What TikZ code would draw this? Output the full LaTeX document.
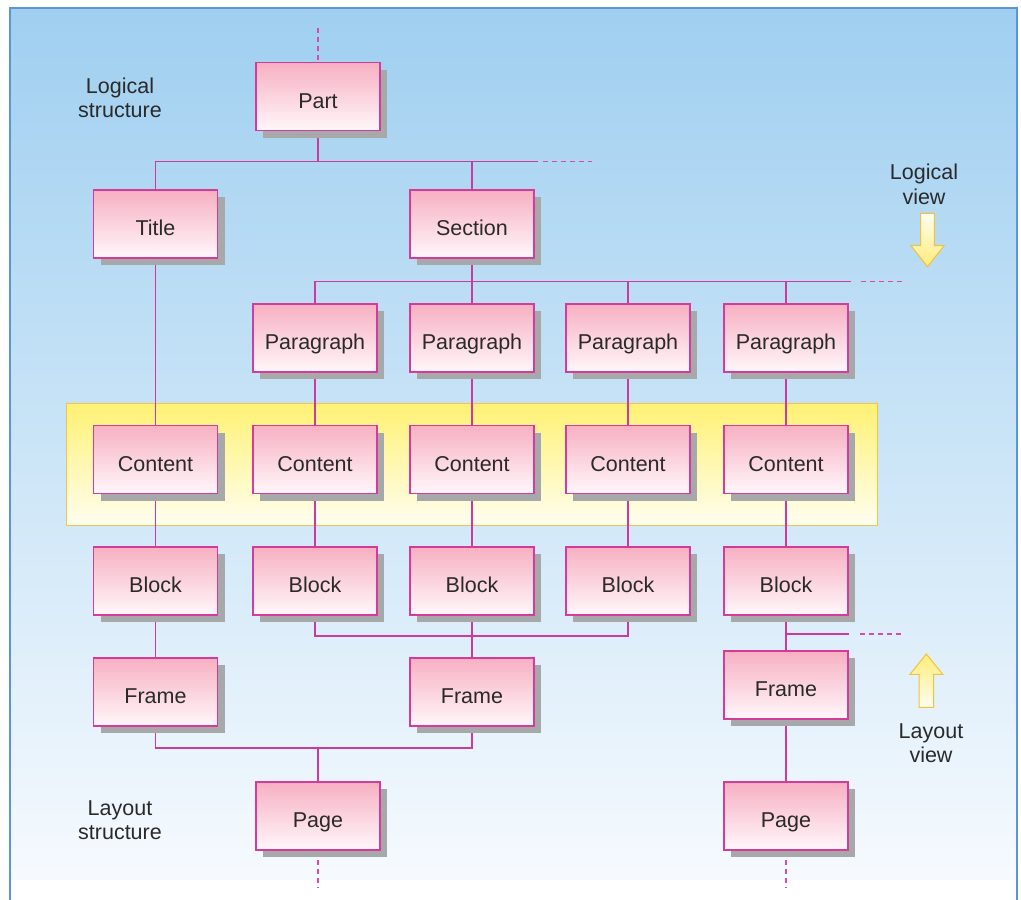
\documentclass[tikz,border=0pt]{standalone}
\usepackage{fontspec}
\setmainfont{Liberation Sans}
\usetikzlibrary{shadows}

\definecolor{bgtop}{HTML}{9FCFF0}
\definecolor{bgbot}{HTML}{F6FAFE}
\definecolor{frameblue}{HTML}{5A95D5}
\definecolor{bandtop}{HTML}{FFF173}
\definecolor{bandbot}{HTML}{FFFEF0}
\definecolor{bandline}{HTML}{F5C24A}
\definecolor{boxtop}{HTML}{F7B0C2}
\definecolor{boxbot}{HTML}{FFF7FA}
\definecolor{boxline}{HTML}{D43C9C}
\definecolor{linkcol}{HTML}{CC3A9E}
\definecolor{dashcol}{HTML}{DA4AA6}
\definecolor{shadowgrey}{HTML}{A7A8AA}
\definecolor{txt}{HTML}{2A2A2A}
\definecolor{arrowhead}{HTML}{FFEC7A}
\definecolor{arrowtail}{HTML}{FFFDF0}
\definecolor{arrowline}{HTML}{F2C23A}

\pgfdeclarelayer{bg}
\pgfdeclarelayer{lines}
\pgfsetlayers{bg,lines,main}

\begin{document}
\begin{tikzpicture}[x=1pt, y=-1pt,
  item/.style={draw=boxline, line width=1.5pt, top color=boxtop, bottom color=boxbot,
    minimum width=124pt, minimum height=68pt, inner sep=0pt,
    text height=23pt, text depth=0pt, text=txt,
    font=\fontsize{21.5}{24.5}\selectfont,
    drop shadow={shadow xshift=7pt, shadow yshift=-7pt, fill=shadowgrey, opacity=1}},
  caption/.style={text=txt, align=center, inner sep=0pt,
    font=\fontsize{21.5}{24.5}\selectfont},
  link/.style={draw=linkcol, line width=1.3pt},
  dashlink/.style={draw=dashcol, line width=1.3pt, dash pattern=on 5pt off 4pt},
  viewarrow/.style={draw=arrowline, line width=1pt, line join=miter}
]
\useasboundingbox (0,0) rectangle (1021,900);

% backdrop and highlighted content band
\begin{pgfonlayer}{bg}
  \shade[top color=bgtop, bottom color=bgbot] (10,8) rectangle (1017,879);
  \draw[frameblue, line width=1.5pt] (10,900) -- (10,8) -- (1017,8) -- (1017,900);
  \draw[draw=bandline, line width=1pt, top color=bandtop, bottom color=bandbot]
    (66.5,403.5) rectangle (877,525);
\end{pgfonlayer}

% logical hierarchy
\node[item] (Part) at (318,96.7) {Part};
\node[item] (Title) at (155.5,224) {Title};
\node[item] (Section) at (472,224) {Section};
\node[item] (P2) at (315,338) {Paragraph};
\node[item] (P3) at (472,338) {Paragraph};
\node[item] (P4) at (628,338) {Paragraph};
\node[item] (P5) at (786,338) {Paragraph};

% shared content objects
\node[item] (C1) at (155.5,459.5) {Content};
\node[item] (C2) at (315,459.5) {Content};
\node[item] (C3) at (472,459.5) {Content};
\node[item] (C4) at (628,459.5) {Content};
\node[item] (C5) at (786,459.5) {Content};

% layout hierarchy
\node[item] (B1) at (155.5,581) {Block};
\node[item] (B2) at (315,581) {Block};
\node[item] (B3) at (472,581) {Block};
\node[item] (B4) at (628,581) {Block};
\node[item] (B5) at (786,581) {Block};
\node[item] (F1) at (155.5,692) {Frame};
\node[item] (F3) at (472,692) {Frame};
\node[item] (F5) at (786,685) {Frame};
\node[item] (G2) at (318,816) {Page};
\node[item] (G5) at (786,816) {Page};

% side captions
\node[caption] (lbllog) at (120,98) {Logical\\structure};
\node[caption] (lbllay) at (120,820) {Layout\\structure};
\node[caption] (lblv1) at (924,184.5) {Logical\\view};
\node[caption] (lblv2) at (931,743) {Layout\\view};

% direction arrows
\draw[viewarrow, top color=arrowtail, bottom color=arrowhead]
  (920.7,213.3) -- (934.3,213.3) -- (934.3,245.7) -- (944,245.7) -- (927.5,266.7)
  -- (911,245.7) -- (920.7,245.7) -- cycle;
\draw[viewarrow, top color=arrowhead, bottom color=arrowtail]
  (926.3,654) -- (942.7,674.3) -- (933.7,674.3) -- (933.7,707.3) -- (919,707.3)
  -- (919,674.3) -- (910,674.3) -- cycle;

% junction points
\coordinate (topend) at (318,28);
\coordinate (j1) at (318,161.5);
\coordinate (j1e) at (538,161.5);
\coordinate (d1a) at (543,161.5);
\coordinate (d1b) at (592,161.5);
\coordinate (j2) at (472,281.5);
\coordinate (j2e) at (851,281.5);
\coordinate (d2a) at (861,281.5);
\coordinate (d2b) at (905,281.5);
\coordinate (jb) at (472,636);
\coordinate (jb5) at (786,634);
\coordinate (jb5e) at (849,634);
\coordinate (d3a) at (860,634);
\coordinate (d3b) at (903,634);
\coordinate (jf) at (318,748);
\coordinate (bot2) at (318,888);
\coordinate (bot5) at (786,888);

\begin{pgfonlayer}{lines}
  \draw[dashlink] (topend) -- (Part);
  \draw[link] (Part) -- (j1);
  \draw[link] (Title) |- (j1e);
  \draw[link] (Section) -- (Section |- j1);
  \draw[dashlink] (d1a) -- (d1b);

  \draw[link] (Section) -- (P3);
  \draw[link] (P2) |- (j2e);
  \draw[link] (P4) -- (P4 |- j2);
  \draw[link] (P5) -- (P5 |- j2);
  \draw[dashlink] (d2a) -- (d2b);

  \draw[link] (Title) -- (C1);
  \draw[link] (P2) -- (C2);
  \draw[link] (P3) -- (C3);
  \draw[link] (P4) -- (C4);
  \draw[link] (P5) -- (C5);

  \draw[link] (C1) -- (B1);
  \draw[link] (C2) -- (B2);
  \draw[link] (C3) -- (B3);
  \draw[link] (C4) -- (B4);
  \draw[link] (C5) -- (B5);

  \draw[link] (B1) -- (F1);
  \draw[link] (B2) |- (jb) -| (B4);
  \draw[link] (B3) -- (F3);
  \draw[link] (B5) -- (F5);
  \draw[link] (jb5) -- (jb5e);
  \draw[dashlink] (d3a) -- (d3b);

  \draw[link] (F1) |- (jf) -| (F3);
  \draw[link] (jf) -- (G2);
  \draw[link] (F5) -- (G5);
  \draw[dashlink] (G2) -- (bot2);
  \draw[dashlink] (G5) -- (bot5);
\end{pgfonlayer}
\end{tikzpicture}
\end{document}
